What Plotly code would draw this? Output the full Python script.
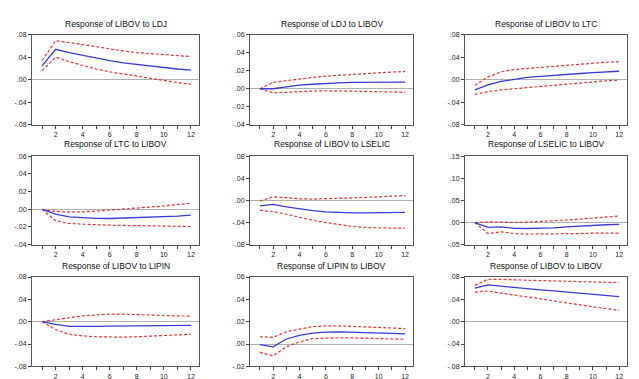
import plotly.graph_objects as go

periods = list(range(1, 13))

titles = [
    "Response of LIBOV to LDJ", "Response of LDJ to LIBOV", "Response of LIBOV to LTC",
    "Response of LTC to LIBOV", "Response of LIBOV to LSELIC", "Response of LSELIC to LIBOV",
    "Response of LIBOV to LIPIN", "Response of LIPIN to LIBOV", "Response of LIBOV to LIBOV",
]

# panel 1
p1_mid = [0.025, 0.054, 0.048, 0.043, 0.038, 0.034, 0.030, 0.027, 0.024, 0.022, 0.019, 0.017]
p1_up = [0.034, 0.069, 0.066, 0.062, 0.058, 0.054, 0.051, 0.048, 0.046, 0.045, 0.043, 0.041]
p1_lo = [0.016, 0.040, 0.032, 0.025, 0.019, 0.014, 0.010, 0.006, 0.002, -0.002, -0.005, -0.008]
# panel 2
p2_mid = [0.000, 0.000, 0.002, 0.004, 0.005, 0.006, 0.0065, 0.007, 0.007, 0.007, 0.0072, 0.0073]
p2_up = [0.000, 0.007, 0.009, 0.011, 0.0125, 0.014, 0.015, 0.016, 0.017, 0.018, 0.0185, 0.019]
p2_lo = [0.000, -0.0045, -0.004, -0.003, -0.0025, -0.0022, -0.0023, -0.0026, -0.003, -0.0032, -0.0036, -0.004]
# panel 3
p3_mid = [-0.018, -0.009, -0.003, 0.001, 0.004, 0.006, 0.008, 0.0095, 0.011, 0.0125, 0.014, 0.015]
p3_up = [-0.010, 0.005, 0.014, 0.018, 0.020, 0.022, 0.024, 0.026, 0.028, 0.030, 0.031, 0.032]
p3_lo = [-0.026, -0.021, -0.018, -0.016, -0.013, -0.011, -0.009, -0.007, -0.005, -0.003, -0.002, -0.001]
# panel 4
p4_mid = [0.0, -0.0055, -0.0085, -0.0098, -0.0103, -0.0104, -0.010, -0.0096, -0.009, -0.0085, -0.0077, -0.0067]
p4_up = [0.0, -0.0025, -0.003, -0.003, -0.002, -0.001, 0.0003, 0.0015, 0.0027, 0.0037, 0.0053, 0.007]
p4_lo = [0.0, -0.013, -0.016, -0.017, -0.0175, -0.018, -0.0182, -0.0185, -0.0186, -0.0187, -0.019, -0.0195]
# panel 5
p5_mid = [-0.010, -0.007, -0.0115, -0.0155, -0.0185, -0.0205, -0.0217, -0.0224, -0.0226, -0.0226, -0.0222, -0.0215]
p5_up = [-0.001, 0.0065, 0.005, 0.003, 0.0025, 0.003, 0.0038, 0.0047, 0.0056, 0.0065, 0.0077, 0.0089]
p5_lo = [-0.018, -0.020, -0.025, -0.031, -0.036, -0.040, -0.044, -0.047, -0.049, -0.050, -0.050, -0.050]
# panel 6
p6_mid = [0.0, -0.011, -0.010, -0.013, -0.0135, -0.0135, -0.012, -0.010, -0.008, -0.006, -0.005, -0.004]
p6_up = [0.0, 0.0015, 0.001, 0.0, 0.001, 0.002, 0.004, 0.0057, 0.008, 0.010, 0.0125, 0.0146]
p6_lo = [0.0, -0.025, -0.021, -0.025, -0.026, -0.026, -0.026, -0.0255, -0.025, -0.024, -0.024, -0.024]
# panel 7
p7_mid = [0.0, -0.005, -0.0085, -0.0088, -0.0083, -0.008, -0.0078, -0.0077, -0.0075, -0.007, -0.0067, -0.0065]
p7_up = [0.0, 0.003, 0.007, 0.0105, 0.0125, 0.0135, 0.0135, 0.0125, 0.0115, 0.0107, 0.0103, 0.010]
p7_lo = [0.0, -0.014, -0.0225, -0.0255, -0.027, -0.028, -0.0278, -0.027, -0.026, -0.025, -0.0235, -0.0225]
# panel 8
p8_mid = [-0.0005, -0.0025, 0.0045, 0.0077, 0.0098, 0.0107, 0.0108, 0.0106, 0.0102, 0.0099, 0.0095, 0.009]
p8_up = [0.0065, 0.006, 0.011, 0.0135, 0.0155, 0.0163, 0.0163, 0.0158, 0.0153, 0.0149, 0.0143, 0.0138]
p8_lo = [-0.0075, -0.0105, -0.0025, 0.002, 0.0048, 0.0055, 0.0056, 0.0055, 0.0052, 0.005, 0.0046, 0.0042]
# panel 9
p9_mid = [0.060, 0.066, 0.0635, 0.061, 0.059, 0.057, 0.055, 0.053, 0.051, 0.049, 0.047, 0.045]
p9_up = [0.065, 0.076, 0.0757, 0.0754, 0.0745, 0.0736, 0.073, 0.0724, 0.072, 0.0713, 0.0707, 0.070]
p9_lo = [0.053, 0.055, 0.051, 0.048, 0.0445, 0.041, 0.037, 0.0335, 0.030, 0.0265, 0.023, 0.020]

mids = [p1_mid, p2_mid, p3_mid, p4_mid, p5_mid, p6_mid, p7_mid, p8_mid, p9_mid]
ups = [p1_up, p2_up, p3_up, p4_up, p5_up, p6_up, p7_up, p8_up, p9_up]
los = [p1_lo, p2_lo, p3_lo, p4_lo, p5_lo, p6_lo, p7_lo, p8_lo, p9_lo]

ticks_8 = [-0.08, -0.04, 0.0, 0.04, 0.08]
ticks_8_lbl = ["-.08", "-.04", ".00", ".04", ".08"]
ticks_46 = [-0.04, -0.02, 0.0, 0.02, 0.04, 0.06]
ticks_46_lbl = ["-.04", "-.02", ".00", ".02", ".04", ".06"]
ticks_15 = [-0.05, 0.0, 0.05, 0.10, 0.15]
ticks_15_lbl = ["-.05", ".00", ".05", ".10", ".15"]
ticks_26 = [-0.02, 0.0, 0.02, 0.04, 0.06]
ticks_26_lbl = ["-.02", ".00", ".02", ".04", ".06"]

y_ticks = [ticks_8, ticks_46, ticks_8, ticks_46, ticks_8, ticks_15, ticks_8, ticks_26, ticks_8]
y_labels = [ticks_8_lbl, ticks_46_lbl, ticks_8_lbl, ticks_46_lbl, ticks_8_lbl, ticks_15_lbl,
            ticks_8_lbl, ticks_26_lbl, ticks_8_lbl]

x_tick_labels = [str(p) if p % 2 == 0 else "" for p in periods]

W, H = 639, 379
col_px = [(24, 191), (242, 405), (457, 619)]
row_px = [(23, 115), (147, 237), (270, 361)]
title_y_px = [12, 134, 259]

fig = go.Figure()
axis_font = dict(family="Liberation Sans, Arial", size=7, color="#222")
for i in range(9):
    r, c = divmod(i, 3)
    n = i + 1
    xa = "x" if n == 1 else f"x{n}"
    ya = "y" if n == 1 else f"y{n}"
    fig.add_trace(go.Scatter(x=periods, y=ups[i], mode="lines", xaxis=xa, yaxis=ya,
                             line=dict(color="#e03535", width=1.2, dash="3px,2px"), showlegend=False))
    fig.add_trace(go.Scatter(x=periods, y=los[i], mode="lines", xaxis=xa, yaxis=ya,
                             line=dict(color="#e03535", width=1.2, dash="3px,2px"), showlegend=False))
    fig.add_trace(go.Scatter(x=periods, y=mids[i], mode="lines", xaxis=xa, yaxis=ya,
                             line=dict(color="#3a3ad8", width=1.3), showlegend=False))
    x0, x1 = col_px[c]
    y0, y1 = row_px[r]
    xkey = "xaxis" if n == 1 else f"xaxis{n}"
    ykey = "yaxis" if n == 1 else f"yaxis{n}"
    yt = y_ticks[i]
    fig.update_layout(**{
        xkey: dict(domain=[x0 / W, x1 / W], anchor=ya, range=[0.25, 12.6],
                   tickvals=periods, ticktext=x_tick_labels, ticks="outside", ticklen=3,
                   tickcolor="#444", showline=True, linecolor="#555", linewidth=1, mirror=True,
                   showgrid=False, zeroline=False, tickfont=axis_font),
        ykey: dict(domain=[1 - y1 / H, 1 - y0 / H], anchor=xa, range=[yt[0], yt[-1]],
                   tickvals=yt, ticktext=y_labels[i], ticks="outside", ticklen=3,
                   tickcolor="#444", showline=True, linecolor="#555", linewidth=1, mirror=True,
                   showgrid=False, zeroline=True, zerolinecolor="#b0b0b0", zerolinewidth=1,
                   tickfont=axis_font),
    })
    fig.add_annotation(x=(x0 + x1) / 2 / W, y=1 - title_y_px[r] / H, xref="paper", yref="paper",
                       text=titles[i], showarrow=False, xanchor="center", yanchor="middle",
                       font=dict(family="Liberation Sans, Arial", size=8.5, color="#111"))

fig.update_layout(width=W, height=H, margin=dict(l=0, r=0, t=0, b=0),
                  paper_bgcolor="white", plot_bgcolor="white")
fig.write_html("out.html")
